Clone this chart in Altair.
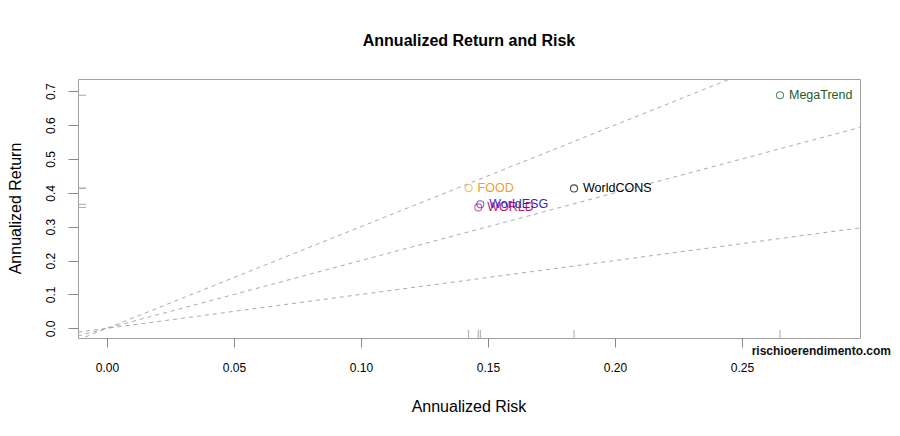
import altair as alt
import pandas as pd

# ---- data ----
names = ["WORLD", "WorldESG", "WorldCONS", "FOOD", "MegaTrend"]
risk = [0.1462, 0.1470, 0.1839, 0.1424, 0.2650]
ret = [0.357, 0.366, 0.413, 0.414, 0.688]
colors = ["#C41E6E", "#2B2BC4", "#000000", "#F0A030", "#1D5E1D"]

sharpe_slopes = [1, 2, 3]
x_dom = [-0.0114, 0.2965]
y_dom = [-0.0286, 0.736]
x_ticks = [0.0, 0.05, 0.10, 0.15, 0.20, 0.25]
y_ticks = [0.0, 0.1, 0.2, 0.3, 0.4, 0.5, 0.6, 0.7]

FONT = "Liberation Sans"
W, H = 782, 259

pts = pd.DataFrame({"name": names, "risk": risk, "ret": ret, "color": colors})

rows = []
for s in sharpe_slopes:
    for xv in x_dom:
        rows.append({"s": s, "risk": xv, "ret": s * xv})
lines_df = pd.DataFrame(rows)

xs = alt.Scale(domain=x_dom, nice=False, zero=False)
ys = alt.Scale(domain=y_dom, nice=False, zero=False)

xaxis = alt.Axis(values=x_ticks, format=".2f", title=None, grid=False, domain=False,
                 tickSize=9, tickColor="#888888", labelPadding=15, labelFontSize=12,
                 labelFont=FONT, labelColor="#000000")
yaxis = alt.Axis(values=y_ticks, format=".1f", title=None, grid=False, domain=False,
                 tickSize=10, tickColor="#888888", labelPadding=11, labelFontSize=12,
                 labelFont=FONT, labelColor="#000000", labelAngle=270,
                 labelAlign="center", labelBaseline="bottom")

X = alt.X("risk:Q", scale=xs, axis=xaxis)
Y = alt.Y("ret:Q", scale=ys, axis=yaxis)

lines = alt.Chart(lines_df).mark_line(
    clip=True, color="#AAAAAA", strokeDash=[4, 4], strokeWidth=1
).encode(x=X, y=Y, detail="s:N")

rug_x = alt.Chart(pts).mark_rule(color="#A8A8A8", strokeWidth=1).encode(
    x=X, y=alt.value(H - 8), y2=alt.value(H)
)
rug_y = alt.Chart(pts).mark_rule(color="#A8A8A8", strokeWidth=1).encode(
    y=Y, x=alt.value(0), x2=alt.value(8)
)

points = alt.Chart(pts).mark_point(shape="circle", filled=False, size=50, strokeWidth=1.1).encode(
    x=X, y=Y, color=alt.Color("color:N", scale=None)
)

labels = alt.Chart(pts).mark_text(
    align="left", baseline="middle", dx=9, fontSize=12.5, font=FONT
).encode(x=X, y=Y, text="name:N", color=alt.Color("color:N", scale=None))

title_df = pd.DataFrame({"t": ["Annualized Return and Risk"]})
title = alt.Chart(title_df).mark_text(
    font=FONT, fontSize=16, fontWeight="bold", align="center", baseline="middle", color="#000000"
).encode(text="t:N", x=alt.value(391), y=alt.value(-37.7))

xt_df = pd.DataFrame({"t": ["Annualized Risk"]})
xtitle = alt.Chart(xt_df).mark_text(
    font=FONT, fontSize=16, align="center", baseline="middle", color="#000000"
).encode(text="t:N", x=alt.value(391), y=alt.value(328.3))

yt_df = pd.DataFrame({"t": ["Annualized Return"]})
ytitle = alt.Chart(yt_df).mark_text(
    font=FONT, fontSize=16, align="center", baseline="middle", angle=270, color="#000000"
).encode(text="t:N", x=alt.value(-62.5), y=alt.value(129.5))

wm_df = pd.DataFrame({"t": ["rischioerendimento.com"]})
watermark = alt.Chart(wm_df).mark_text(
    font=FONT, fontSize=12, fontWeight="bold", align="right", baseline="middle", color="#111111"
).encode(text="t:N", x=alt.value(813), y=alt.value(271.5))

chart = alt.layer(
    lines, rug_x, rug_y, points, labels, title, xtitle, ytitle, watermark
).properties(
    width=W, height=H,
    padding={"left": 70, "top": 71, "right": 32, "bottom": 85},
    autosize=alt.AutoSizeParams(type="none"),
    background="#FFFFFF",
).configure_view(stroke="#A0A0A0", strokeWidth=1)

chart.save("out.html", embed_options={"renderer": "svg", "actions": False})
